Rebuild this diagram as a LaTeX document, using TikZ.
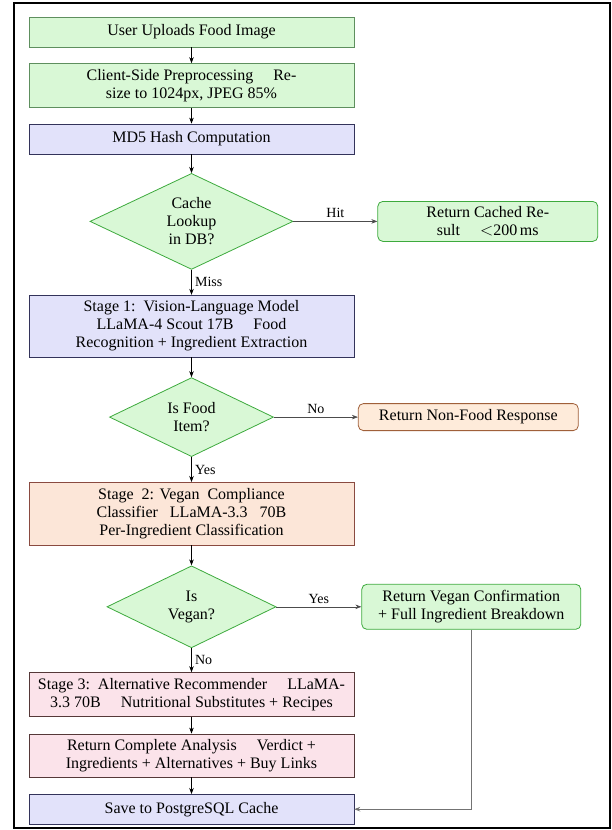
\documentclass[tikz,border=0pt]{standalone}
\usepackage{fontspec}
\setmainfont{Liberation Serif}
\usetikzlibrary{positioning,arrows.meta,shapes.geometric}
\definecolor{grnfill}{HTML}{D9F8D6}
\definecolor{grnline}{HTML}{5E8F5E}
\definecolor{grnedge}{HTML}{3DAA3D}
\definecolor{bluefill}{HTML}{E2E2FA}
\definecolor{blueline}{HTML}{33335A}
\definecolor{orfill}{HTML}{FCE6D8}
\definecolor{orline}{HTML}{8A4A40}
\definecolor{nffill}{HTML}{FEEBDA}
\definecolor{nfline}{HTML}{A0603A}
\definecolor{pkfill}{HTML}{FBE3EA}
\definecolor{pkline}{HTML}{553838}
\tikzset{
  box/.style={draw, align=center, font=\fontsize{16}{18}\selectfont, inner sep=3pt, minimum width=325pt, minimum height=30pt},
  gbox/.style={box, fill=grnfill, draw=grnline},
  bbox/.style={box, fill=bluefill, draw=blueline},
  obox/.style={box, fill=orfill, draw=orline},
  pbox/.style={box, fill=pkfill, draw=pkline},
  side/.style={draw, rounded corners=5pt, align=center, font=\fontsize{16}{18}\selectfont, inner sep=3pt, minimum width=220pt, thick},
  dec/.style={diamond, aspect=2.1, draw=grnedge, fill=grnfill, thick, align=center, font=\fontsize{16}{18}\selectfont, inner sep=1pt},
  arr/.style={-{Stealth[length=6pt, width=4.5pt]}, semithick},
  sarr/.style={arr, draw=black!70},
  lab/.style={font=\fontsize{14}{16}\selectfont, midway}
}
\begin{document}
\begin{tikzpicture}[x=1pt, y=1pt, node distance=16pt and 84pt]
\useasboundingbox (0,0) rectangle (612,-830);
\draw[line width=2pt] (13.5,-3) rectangle (610,-828);
\node[gbox] (upload) at (191.5,-32) {User Uploads Food Image};
\node[gbox, below=of upload, minimum height=44pt] (prep) {Client-Side Preprocessing\quad\ Re-\\size to 1024px, JPEG 85\%};
\node[bbox, below=of prep] (hash) {MD5 Hash Computation};
\node[dec, below=19pt of hash, minimum width=203pt, minimum height=96pt] (cache) {Cache\\Lookup\\in DB?};
\node[side, right=of cache, fill=grnfill, draw=grnedge, minimum height=40pt] (cached) {Return Cached Re-\\sult\quad\ $<$200\,ms};
\node[bbox, below=25pt of cache, minimum height=62pt] (vlm) {Stage 1:\ \ Vision-Language Model\\LLaMA-4 Scout 17B\quad\ Food\\Recognition + Ingredient Extraction};
\node[dec, below=20pt of vlm, minimum width=164pt, minimum height=79pt] (isfood) {Is Food\\Item?};
\node[side, right=of isfood, fill=nffill, draw=nfline, minimum height=27pt] (nonfood) {Return Non-Food Response};
\node[obox, below=25pt of isfood, minimum height=63pt] (comply) {Stage\ \ 2: Vegan\ \ Compliance\\Classifier\ \ \ LLaMA-3.3\ \ \ 70B\\Per-Ingredient Classification};
\node[dec, below=20pt of comply, minimum width=169pt, minimum height=82pt] (isvegan) {Is\\Vegan?};
\node[side, right=85pt of isvegan, fill=grnfill, draw=grnedge, minimum width=219pt, minimum height=45pt] (vegok) {Return Vegan Confirmation\\+ Full Ingredient Breakdown};
\node[pbox, below=24pt of isvegan, minimum height=44pt] (altrec) {Stage 3:\ \ Alternative Recommender\quad\ LLaMA-\\3.3 70B\quad\ Nutritional Substitutes + Recipes};
\node[pbox, below=17pt of altrec, minimum height=43pt] (result) {Return Complete Analysis\quad\ Verdict +\\Ingredients + Alternatives + Buy Links};
\node[bbox, below=17pt of result] (save) {Save to PostgreSQL Cache};
\draw[arr] (upload)--(prep); \draw[arr] (prep)--(hash); \draw[arr] (hash)--(cache);
\draw[sarr] (cache)-- node[lab, above]{Hit} (cached);
\draw[arr] (cache)-- node[lab, right]{Miss} (vlm);
\draw[arr] (vlm)--(isfood);
\draw[sarr] (isfood)-- node[lab, above]{No} (nonfood);
\draw[arr] (isfood)-- node[lab, right]{Yes} (comply);
\draw[arr] (comply)--(isvegan);
\draw[sarr] (isvegan)-- node[lab, above]{Yes} (vegok);
\draw[arr] (isvegan)-- node[lab, right]{No} (altrec);
\draw[arr] (altrec)--(result); \draw[arr] (result)--(save);
\draw[sarr, draw=black!55, line width=1.2pt] (vegok.south) |- (save.east);
\end{tikzpicture}
\end{document}
